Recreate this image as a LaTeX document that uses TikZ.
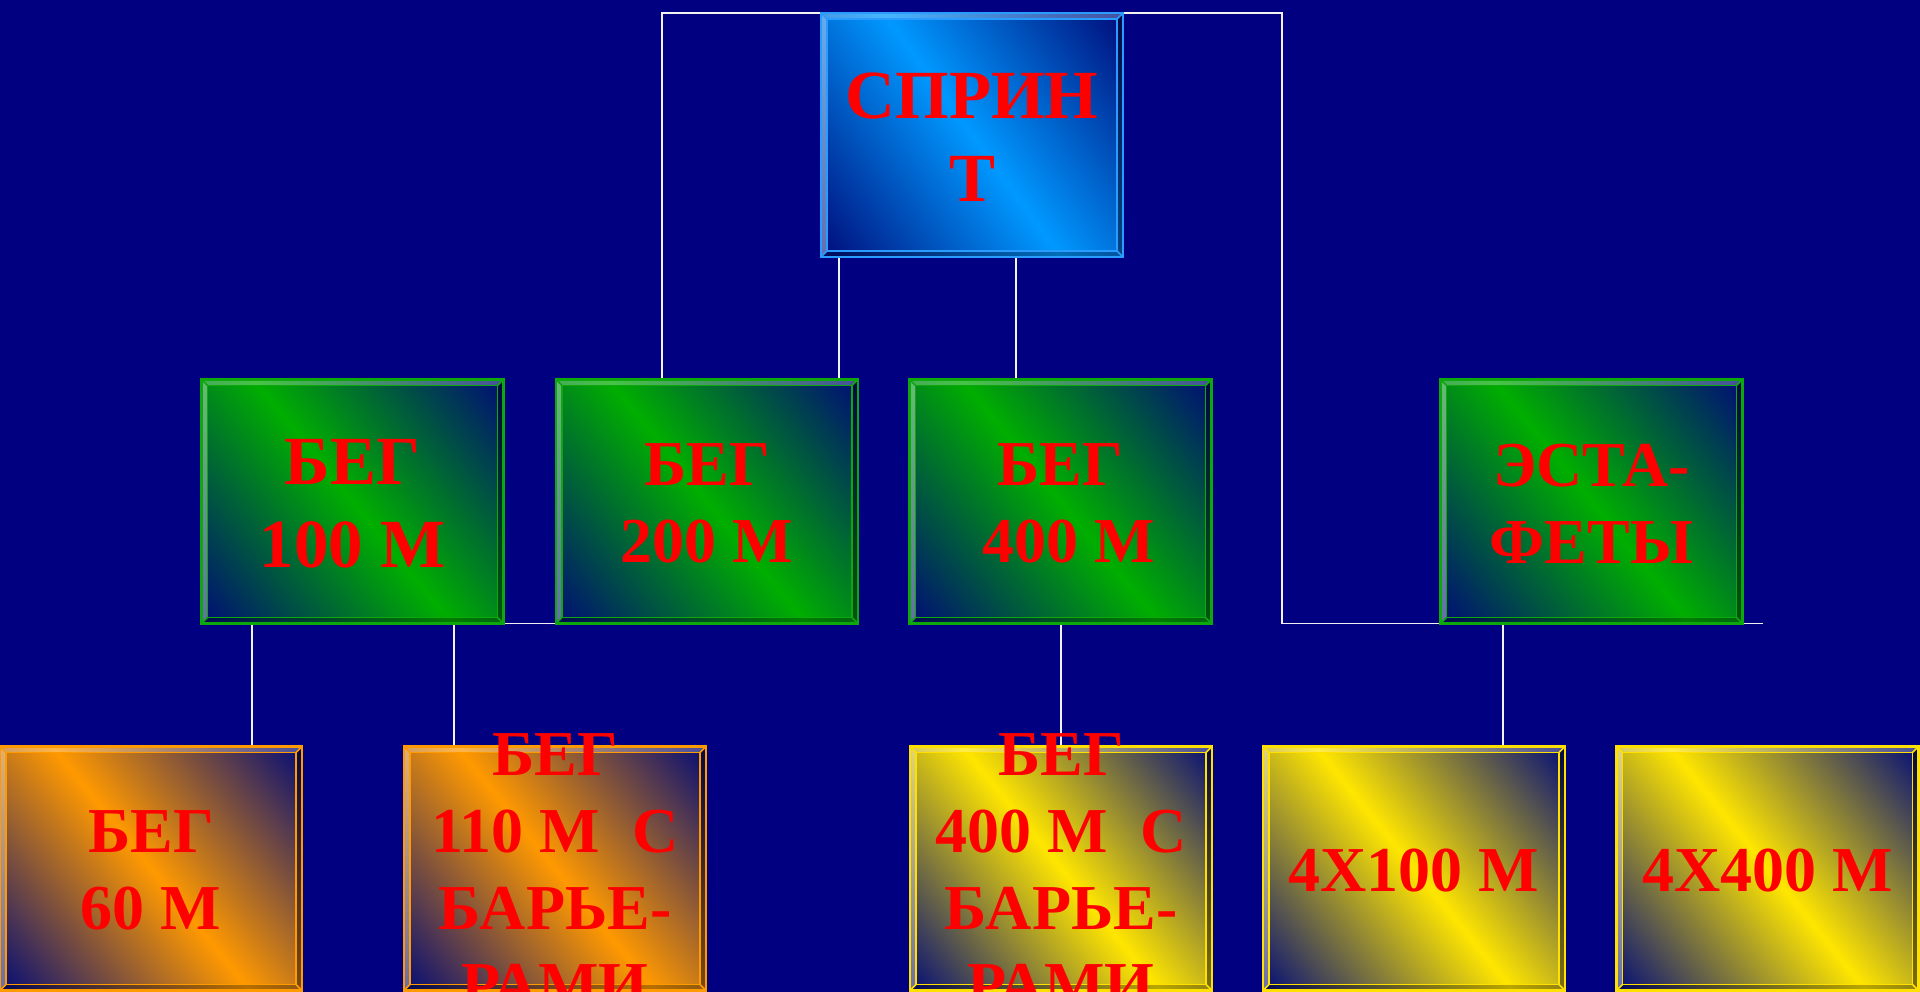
\documentclass[tikz,border=0pt]{standalone}
\usepackage{fontspec}
\setmainfont{Liberation Serif}
\usetikzlibrary{calc}
\definecolor{bgnavy}{HTML}{000080}
\definecolor{shnavy}{HTML}{000A78}
\definecolor{brblue}{HTML}{0099FF}
\definecolor{brgreen}{HTML}{00AE00}
\definecolor{brorange}{HTML}{FF9900}
\definecolor{bryellow}{HTML}{FFE600}
\definecolor{edblue}{HTML}{2A9BFF}
\definecolor{edgreen}{HTML}{0CA80C}
\definecolor{edorange}{HTML}{FF9A00}
\definecolor{edyellow}{HTML}{FFE000}
\definecolor{txtred}{HTML}{FF0000}
\definecolor{connc}{HTML}{F2F2F2}
\pgfdeclarehorizontalshading{shblue}{100bp}{color(0bp)=(shnavy); color(50bp)=(brblue); color(100bp)=(shnavy)}
\pgfdeclarehorizontalshading{shgreen}{100bp}{color(0bp)=(shnavy); color(50bp)=(brgreen); color(100bp)=(shnavy)}
\pgfdeclarehorizontalshading{shorange}{100bp}{color(0bp)=(shnavy); color(50bp)=(brorange); color(100bp)=(shnavy)}
\pgfdeclarehorizontalshading{shyellow}{100bp}{color(0bp)=(shnavy); color(50bp)=(bryellow); color(100bp)=(shnavy)}
\tikzset{
  boxgeo/.style={rectangle, inner sep=0pt, outer sep=0pt, minimum width=3.02cm, minimum height=2.44cm},
  bigtxt/.style={text=txtred, align=center, inner sep=0pt, yshift=-0.02cm, font=\fontsize{19.6pt}{23.6pt}\selectfont\bfseries},
  smalltxt/.style={text=txtred, align=center, inner sep=0pt, yshift=-0.02cm, font=\fontsize{18.2pt}{21.9pt}\selectfont\bfseries},
  conn/.style={draw=connc, line width=0.5pt},
}
% diagonal gradient fill of a box node
\newcommand\gradbox[3]{%
  \begin{scope}
    \clip (#1.south west) rectangle (#1.north east);
    \begin{pgfscope}
      \pgftransformshift{\pgfpointanchor{#1}{center}}%
      \pgftransformrotate{#3}%
      \pgftransformscale{1.11}%
      \pgflowlevelsynccm
      \pgftext{\pgfuseshading{#2}}%
    \end{pgfscope}
  \end{scope}
}
% bevelled frame of a box node
\newcommand\bevel[2]{%
  \coordinate (#1-a) at ([xshift=0.06cm,yshift=-0.06cm]#1.north west);
  \coordinate (#1-b) at ([xshift=-0.06cm,yshift=-0.06cm]#1.north east);
  \coordinate (#1-c) at ([xshift=-0.06cm,yshift=0.06cm]#1.south east);
  \coordinate (#1-d) at ([xshift=0.06cm,yshift=0.06cm]#1.south west);
  \fill[white,fill opacity=0.28] (#1.north west) -- (#1.north east) -- (#1-b) -- (#1-a) -- cycle;
  \fill[white,fill opacity=0.40] (#1.north west) -- (#1-a) -- (#1-d) -- (#1.south west) -- cycle;
  \fill[black,fill opacity=0.40] (#1.north east) -- (#1.south east) -- (#1-c) -- (#1-b) -- cycle;
  \fill[black,fill opacity=0.28] (#1.south west) -- (#1.south east) -- (#1-c) -- (#1-d) -- cycle;
  \draw[#2, line width=0.45pt] (#1-a) rectangle (#1-c);
  \draw[#2, line width=0.45pt] (#1.north west) -- (#1-a) (#1.north east) -- (#1-b) (#1.south east) -- (#1-c) (#1.south west) -- (#1-d);
  \draw[#2, line width=0.75pt] (#1.north west) rectangle (#1.south east);
}
\newcommand\drawbox[4]{\gradbox{#1}{#2}{#4}\bevel{#1}{#3}}
\begin{document}
\begin{tikzpicture}[x=0.01cm,y=-0.01cm]
\fill[bgnavy] (0,0) rectangle (1920,992);
\useasboundingbox (0,0) rectangle (1920,992);

% box nodes
\node[boxgeo] (spr) at (972,135) {};
\node[boxgeo] (b100) at (352.5,501.5) {};
\node[boxgeo] (b200) at (707,501.5) {};
\node[boxgeo] (b400) at (1060.5,501.5) {};
\node[boxgeo] (est) at (1591.5,501.5) {};
\node[boxgeo] (b60) at (151,868.5) {};
\node[boxgeo] (b110) at (555,868.5) {};
\node[boxgeo] (b400h) at (1061,868.5) {};
\node[boxgeo] (r100) at (1414,868.5) {};
\node[boxgeo] (r400) at (1767.5,868.5) {};

% connectors
\coordinate (tail) at ([xshift=0.2cm]est.south east);
\draw[conn] (662,0 |- b200.north) -- (662,0 |- spr.north) -- (1282,0 |- spr.north) -- (1282,0 |- est.south) -- (tail);
\draw[conn] (839,0 |- spr.south) -- (839,0 |- b200.north);
\draw[conn] (1016,0 |- spr.south) -- (1016,0 |- b400.north);
\draw[conn] (b100.south east) -- (b200.south west);
\draw[conn] (252,0 |- b100.south) -- (252,0 |- b60.north);
\draw[conn] (454,0 |- b100.south) -- (454,0 |- b110.north);
\draw[conn] (1061,0 |- b400.south) -- (1061,0 |- b400h.north);
\draw[conn] (1503,0 |- est.south) -- (1503,0 |- r100.north);

% shaded bevelled boxes
\drawbox{spr}{shblue}{edblue}{36}
\drawbox{b100}{shgreen}{edgreen}{39}
\drawbox{b200}{shgreen}{edgreen}{39}
\drawbox{b400}{shgreen}{edgreen}{39}
\drawbox{est}{shgreen}{edgreen}{39}
\drawbox{b60}{shorange}{edorange}{39}
\drawbox{b110}{shorange}{edorange}{39}
\drawbox{b400h}{shyellow}{edyellow}{39}
\drawbox{r100}{shyellow}{edyellow}{39}
\drawbox{r400}{shyellow}{edyellow}{39}

% texts
\node[bigtxt] (tspr) at (spr.center) {СПРИН\\Т};
\node[bigtxt] (t100) at (b100.center) {БЕГ\\100 М};
\node[smalltxt] (t200) at (b200.center) {БЕГ\\200 М};
\node[smalltxt] (t400) at (b400.center) {БЕГ\\\mbox{}\ 400 М};
\node[smalltxt] (test) at (est.center) {ЭСТА-\\ФЕТЫ};
\node[smalltxt] (t60) at (b60.center) {БЕГ\\60 М};
\node[smalltxt] (t110) at (b110.center) {БЕГ\\110 М\ \ С\\БАРЬЕ-\\РАМИ};
\node[smalltxt] (t400h) at (b400h.center) {БЕГ\\400 М\ \ С\\БАРЬЕ-\\РАМИ};
\node[smalltxt] (tr100) at (r100.center) {4Х100 М};
\node[smalltxt] (tr400) at (r400.center) {4Х400 М};
\end{tikzpicture}
\end{document}
